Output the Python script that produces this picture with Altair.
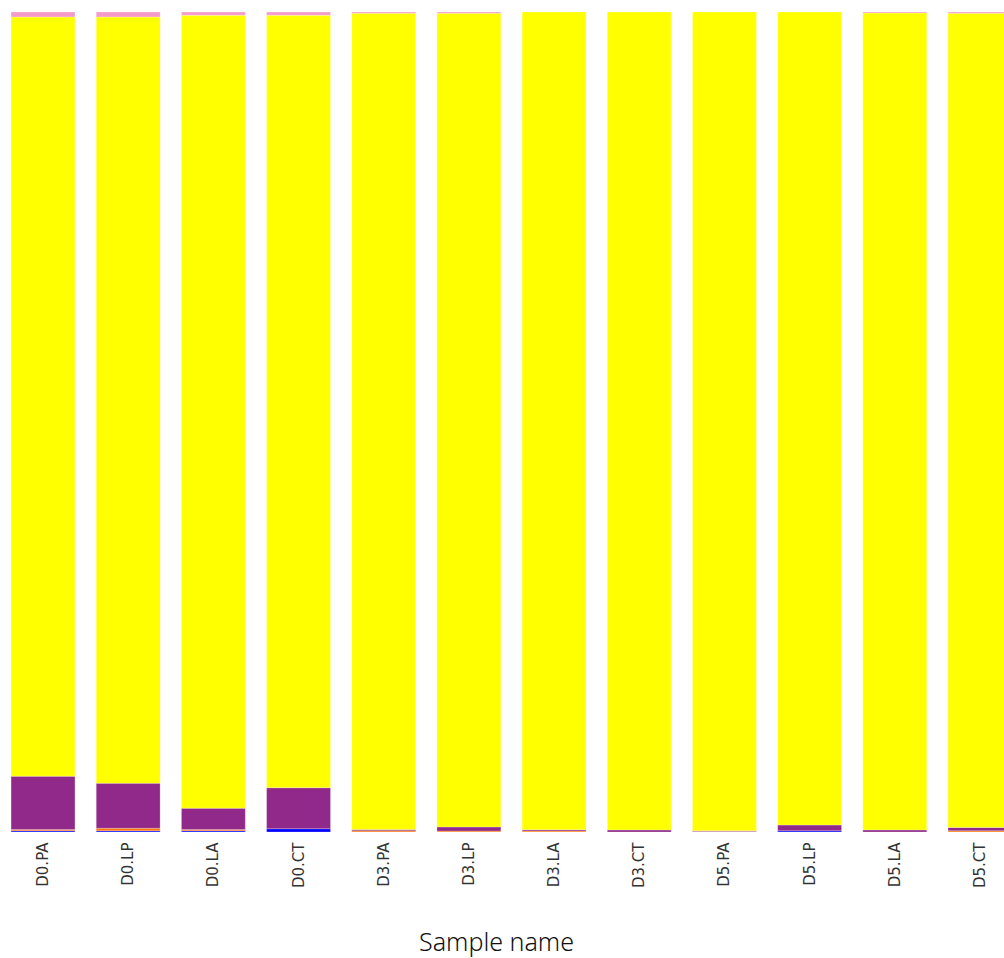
import altair as alt
import pandas as pd

samples = ["D0.PA", "D0.LP", "D0.LA", "D0.CT", "D3.PA", "D3.LP",
           "D3.LA", "D3.CT", "D5.PA", "D5.LP", "D5.LA", "D5.CT"]
taxa = ["Taxon 1", "Taxon 2", "Taxon 3", "Taxon 4", "Taxon 5"]
colors = ["#0000FF", "#FF7700", "#91298B", "#FFFF00", "#F59BC9"]

taxon1 = [0.0015, 0.0015, 0.0015, 0.004, 0.0, 0.0, 0.0, 0.0, 0.0, 0.0015, 0.0, 0.0]
taxon2 = [0.0015, 0.003, 0.0015, 0.0, 0.0015, 0.0012, 0.0012, 0.0, 0.0005, 0.0, 0.0, 0.0015]
taxon3 = [0.065, 0.055, 0.026, 0.050, 0.0015, 0.005, 0.0015, 0.0025, 0.001, 0.007, 0.0025, 0.004]
taxon4 = [0.926, 0.9345, 0.967, 0.942, 0.9955, 0.9923, 0.9973, 0.9975, 0.9985, 0.9915, 0.9963, 0.993]
taxon5 = [0.006, 0.006, 0.004, 0.004, 0.0015, 0.0015, 0.0, 0.0, 0.0, 0.0, 0.0012, 0.0015]

series = [taxon1, taxon2, taxon3, taxon4, taxon5]
rows = []
for ti, (name, vals) in enumerate(zip(taxa, series)):
    for s, v in zip(samples, vals):
        if v > 0:
            rows.append({"Sample": s, "Taxon": name, "Abundance": v, "ord": ti})
df = pd.DataFrame(rows)

chart = alt.Chart(df).mark_bar(stroke="white", strokeWidth=0.4, strokeOpacity=0.6, clip=True).encode(
    x=alt.X("Sample:N", sort=samples,
            scale=alt.Scale(paddingInner=0.25, paddingOuter=0.13, range=[0, 1023]),
            axis=alt.Axis(title="Sample name", labelAngle=-90, labelAlign="right",
                          labelBaseline="middle", labelPadding=10, ticks=False,
                          domain=False, labelFont="DejaVu Sans", labelFontSize=15,
                          labelColor="#333333", titleFont="Noto Sans",
                          titleFontWeight=300, titleFontSize=25, titleColor="#111111",
                          titleX=496, titleY=118, titleBaseline="alphabetic",
                          titleAlign="center", titleAnchor="start")),
    y=alt.Y("Abundance:Q", stack="normalize", axis=None,
            scale=alt.Scale(domain=[0, 1], nice=False)),
    color=alt.Color("Taxon:N", scale=alt.Scale(domain=taxa, range=colors), legend=None),
    order=alt.Order("ord:Q", sort="ascending"),
).properties(
    width=1004, height=820,
    padding={"left": 0, "top": 12, "right": 0, "bottom": 126},
    autosize=alt.AutoSizeParams(type="none"),
).configure_view(stroke=None)

chart.save("out.html", embed_options={"renderer": "svg", "actions": False})
